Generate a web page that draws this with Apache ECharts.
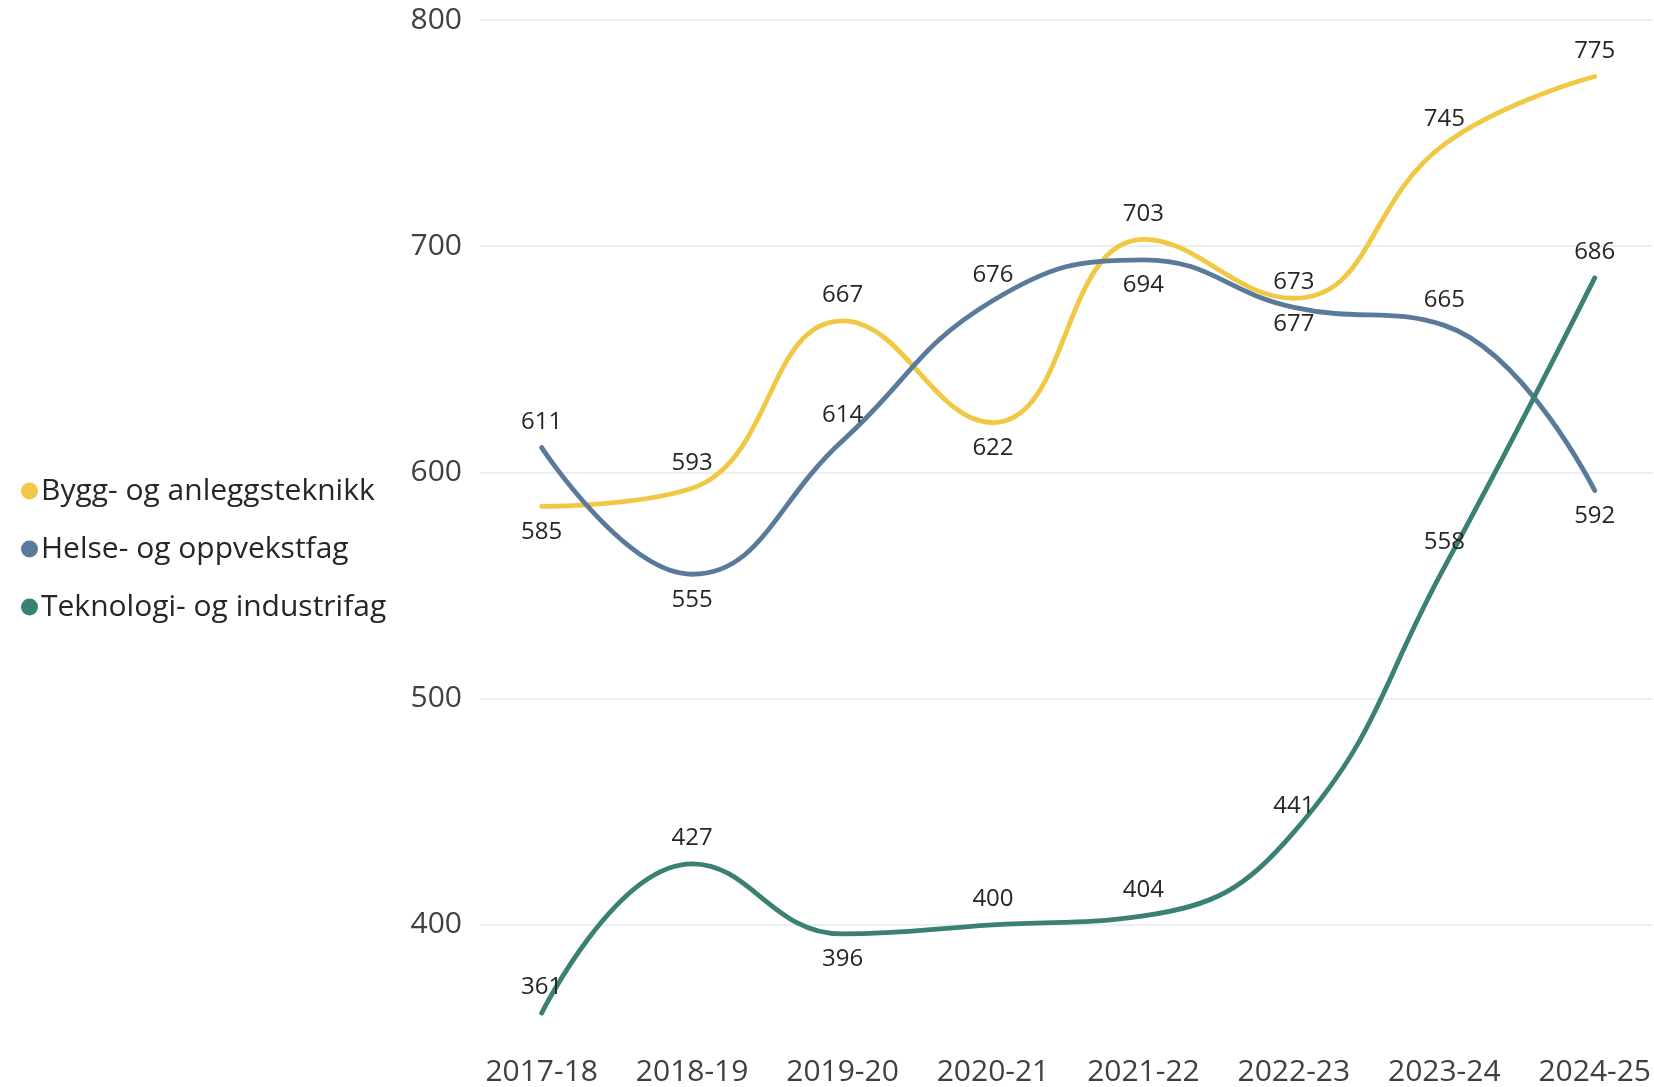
<!DOCTYPE html>
<html lang="no">
<head>
<meta charset="utf-8">
<title>Søkere per programområde</title>
<script src="https://cdn.jsdelivr.net/npm/echarts@6/dist/echarts.min.js"></script>
<style>
  html, body { margin: 0; padding: 0; background: #ffffff; }
  #chart { width: 1654px; height: 1087px; }
</style>
</head>
<body>
<div id="chart"></div>
<script>
// School years on the x axis
const categories = ['2017-18', '2018-19', '2019-20', '2020-21', '2021-22', '2022-23', '2023-24', '2024-25'];

// Values per programme area
const byggValues = [585, 593, 667, 622, 703, 677, 745, 775];
const helseValues = [611, 555, 614, 676, 694, 673, 665, 592];
const teknologiValues = [361, 427, 396, 400, 404, 441, 558, 686];

// Labelled ticks on the value axis
const yTickLabels = [400, 500, 600, 700, 800];

// Which side of the line each value label sits on
const byggLabelSide = ['bottom', 'top', 'top', 'bottom', 'top', 'bottom', 'top', 'top'];
const helseLabelSide = ['top', 'bottom', 'top', 'top', 'bottom', 'top', 'top', 'bottom'];
const teknologiLabelSide = ['top', 'top', 'bottom', 'top', 'top', 'top', 'top', 'top'];

const FONT = '"Open Sans", "Noto Sans", sans-serif';
const TEXT = '#262626';

function points(values, sides) {
  return values.map((v, i) => ({
    value: [i, v],
    label: { position: sides[i] }
  }));
}

function lineSeries(name, color, values, sides) {
  return {
    name: name,
    type: 'line',
    smooth: 0.45,
    symbol: 'circle',
    symbolSize: 1,
    showSymbol: true,
    itemStyle: { color: color },
    lineStyle: { color: color, width: 4.8, cap: 'round', join: 'round' },
    label: {
      show: true,
      distance: 13,
      fontSize: 24,
      fontFamily: FONT,
      color: TEXT,
      formatter: (p) => String(p.value[1])
    },
    emphasis: { disabled: true },
    data: points(values, sides)
  };
}

const chart = echarts.init(document.getElementById('chart'), null, { renderer: 'canvas' });

chart.setOption({
  animation: false,
  backgroundColor: '#ffffff',
  legend: {
    orient: 'vertical',
    left: 16,
    top: 471,
    icon: 'circle',
    itemWidth: 17,
    itemHeight: 17,
    itemGap: 28,
    selectedMode: false,
    textStyle: { fontSize: 30, fontFamily: FONT, color: TEXT, padding: [0, 0, 0, -2] },
    data: ['Bygg- og anleggsteknikk', 'Helse- og oppvekstfag', 'Teknologi- og industrifag']
  },
  grid: { left: 480, right: 0, top: 20, bottom: 49, containLabel: false },
  xAxis: {
    type: 'value',
    min: -0.41,
    max: 7.386,
    axisLine: { show: false },
    axisTick: { show: false },
    splitLine: { show: false },
    axisLabel: {
      customValues: categories.map((c, i) => i),
      formatter: (v) => categories[Math.round(v)] || '',
      fontSize: 30,
      fontFamily: FONT,
      color: '#404040',
      margin: 19
    }
  },
  yAxis: {
    type: 'value',
    min: 350,
    max: 800,
    interval: 50,
    axisLine: { show: false },
    axisTick: { show: false },
    axisLabel: {
      formatter: (v) => (yTickLabels.indexOf(v) >= 0 ? String(v) : ''),
      fontSize: 30,
      fontFamily: FONT,
      color: '#404040',
      margin: 18
    },
    splitLine: {
      show: true,
      lineStyle: { color: ['rgba(0,0,0,0)', '#eceff2'], width: 2 }
    }
  },
  series: [
    lineSeries('Bygg- og anleggsteknikk', '#f1c844', byggValues, byggLabelSide),
    lineSeries('Helse- og oppvekstfag', '#5a7a9b', helseValues, helseLabelSide),
    lineSeries('Teknologi- og industrifag', '#3a8073', teknologiValues, teknologiLabelSide)
  ]
});
</script>
</body>
</html>
